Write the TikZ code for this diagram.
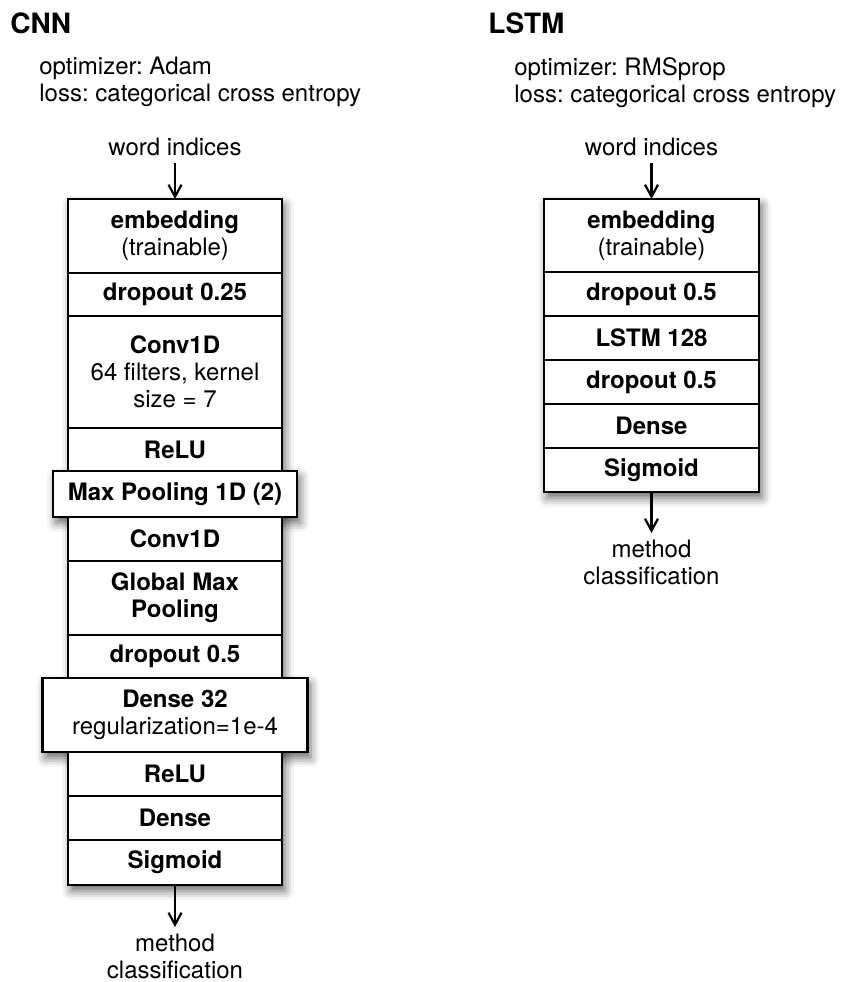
\documentclass[tikz,border=0pt]{standalone}
\usepackage{fontspec}
\setmainfont{TeX Gyre Heros}
\frenchspacing
\usetikzlibrary{arrows.meta}
\usetikzlibrary{positioning}
\usetikzlibrary{backgrounds}
\usetikzlibrary{shadows.blur}
\tikzset{>={Straight Barb[length=6pt,width=6.5pt]}}
\newcommand\txt{\fontsize{12}{13.5}\selectfont}
\tikzset{
  layer/.style={draw,line width=1.1pt,fill=white,minimum width=107pt,
                minimum height=22pt,inner sep=2pt,outer sep=0pt,
                align=center,font=\txt},
  widelayer/.style={layer,minimum width=#1},
  title/.style={anchor=base west,inner sep=0pt,font=\fontsize{14}{16}\selectfont\bfseries},
  info/.style={anchor=north west,inner sep=0pt,align=left,font=\txt},
  io/.style={align=center,font=\txt},
  flow/.style={->,line width=1.1pt},
  boxshadow/.style={blur shadow={shadow xshift=1.5pt,shadow yshift=-3pt,
                    shadow blur radius=4.5pt,shadow opacity=60}}
}

\begin{document}
\begin{tikzpicture}[x=0.5pt,y=-0.5pt]
  \useasboundingbox (0,0) rectangle (845,982);

  % CNN
  \node[title] (cnn-title) at (10,33) {CNN};
  \node[info] (cnn-info) at (39,57) {optimizer: Adam\\loss: categorical cross entropy};

  \node[layer,minimum height=37pt,anchor=north] (cnn-emb) at (175,199)
    {\textbf{embedding}\\(trainable)};
  \node[layer,minimum height=21.5pt,below=0pt of cnn-emb] (cnn-drop1) {\textbf{dropout 0.25}};
  \node[layer,minimum height=56pt,below=0pt of cnn-drop1] (cnn-conv1)
    {\textbf{Conv1D}\\64 filters, kernel\\size = 7};
  \node[layer,minimum height=21.5pt,below=0pt of cnn-conv1] (cnn-relu1) {\textbf{ReLU}};
  \node[widelayer=122pt,minimum height=23pt,below=0pt of cnn-relu1] (cnn-pool)
    {\textbf{Max Pooling 1D (2)}};
  \node[layer,below=0pt of cnn-pool] (cnn-conv2) {\textbf{Conv1D}};
  \node[layer,minimum height=37pt,below=0pt of cnn-conv2] (cnn-gmp)
    {\textbf{Global Max}\\\textbf{Pooling}};
  \node[layer,minimum height=21.5pt,below=0pt of cnn-gmp] (cnn-drop2) {\textbf{dropout 0.5}};
  \node[widelayer=132.5pt,minimum height=37pt,below=0pt of cnn-drop2] (cnn-dense1)
    {\textbf{Dense 32}\\regularization=1e-4};
  \node[layer,below=0pt of cnn-dense1] (cnn-relu2) {\textbf{ReLU}};
  \node[layer,below=0pt of cnn-relu2] (cnn-dense2) {\textbf{Dense}};
  \node[layer,minimum height=22.5pt,below=0pt of cnn-dense2] (cnn-sig) {\textbf{Sigmoid}};

  \node[io,above=18pt of cnn-emb] (cnn-in) {word indices};
  \node[io,below=21pt of cnn-sig] (cnn-out) {method\\classification};
  \draw[flow] (cnn-in) -- (cnn-emb);
  \draw[flow] (cnn-sig) -- (cnn-out);

  % LSTM
  \node[title] (lstm-title) at (488,33) {LSTM};
  \node[info] (lstm-info) at (514,57) {optimizer: RMSprop\\loss: categorical cross entropy};

  \node[layer,minimum width=107.5pt,minimum height=36.5pt,anchor=north] (lstm-emb) at (651.5,199)
    {\textbf{embedding}\\(trainable)};
  \node[layer,minimum width=107.5pt,below=0pt of lstm-emb] (lstm-drop1) {\textbf{dropout 0.5}};
  \node[layer,minimum width=107.5pt,below=0pt of lstm-drop1] (lstm-lstm) {\textbf{LSTM 128}};
  \node[layer,minimum width=107.5pt,below=0pt of lstm-lstm] (lstm-drop2) {\textbf{dropout 0.5}};
  \node[layer,minimum width=107.5pt,below=0pt of lstm-drop2] (lstm-dense) {\textbf{Dense}};
  \node[layer,minimum width=107.5pt,below=0pt of lstm-dense] (lstm-sig) {\textbf{Sigmoid}};

  \node[io,above=18pt of lstm-emb] (lstm-in) {word indices};
  \node[io,below=20.5pt of lstm-sig] (lstm-out) {method\\classification};
  \draw[flow] (lstm-in) -- (lstm-emb);
  \draw[flow] (lstm-sig) -- (lstm-out);

  % SHADOWS
  \begin{scope}[on background layer]
    \path[boxshadow,fill=white] (cnn-emb.north west) rectangle (cnn-sig.south east);
    \path[boxshadow,fill=white] (cnn-pool.north west) rectangle (cnn-pool.south east);
    \path[boxshadow,fill=white] (cnn-dense1.north west) rectangle (cnn-dense1.south east);
    \path[boxshadow,fill=white] (lstm-emb.north west) rectangle (lstm-sig.south east);
  \end{scope}
\end{tikzpicture}
\end{document}
